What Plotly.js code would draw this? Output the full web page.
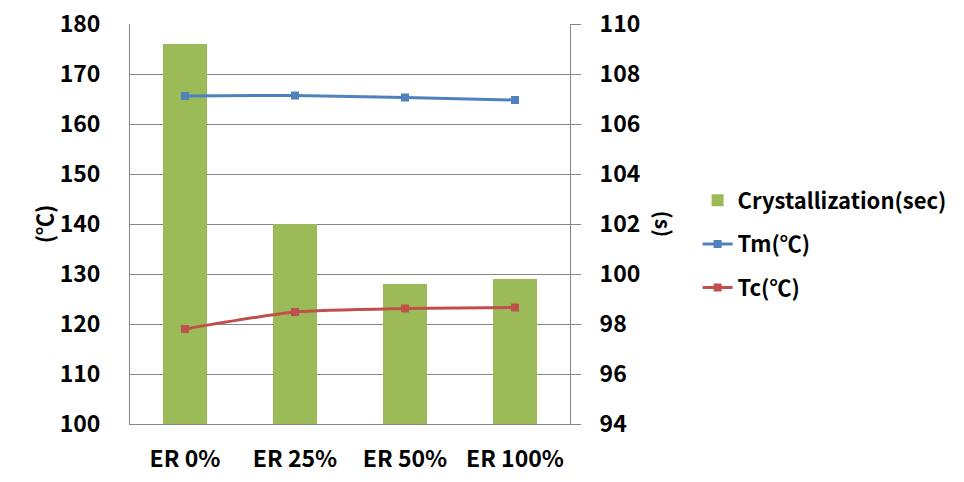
<!DOCTYPE html>
<html>
<head>
<meta charset="utf-8">
<script src="https://cdn.plot.ly/plotly-3.0.1.min.js"></script>
<style>html,body{margin:0;padding:0;background:#fff;}#chart{width:964px;height:482px;}</style>
</head>
<body>
<div id="chart"></div>
<script>
const categories = ["ER 0%", "ER 25%", "ER 50%", "ER 100%"];
const crystallization = [109.2, 102.0, 99.6, 99.8];
const tm = [165.6, 165.7, 165.3, 164.8];
const tc = [119.0, 122.4, 123.1, 123.3];
const leftTicks = [100, 110, 120, 130, 140, 150, 160, 170, 180];
const rightTicks = [94, 96, 98, 100, 102, 104, 106, 108, 110];

const FONT = "'Noto Sans CJK KR', 'Noto Sans', sans-serif";
const GRID = "#868686";
const TF = {family: FONT, size: 23, weight: "bold", color: "#000"};

const traces = [
  {
    type: "bar", name: "Crystallization(sec)", x: categories, y: crystallization,
    xaxis: "x", yaxis: "y", marker: {color: "#9BBB59"}, legendgroup: "a"
  },
  {
    type: "scatter", mode: "lines+markers", name: "Tm(℃)", x: categories, y: tm,
    xaxis: "x", yaxis: "y2", line: {color: "#4F81BD", width: 3, shape: "spline", smoothing: 0.6},
    marker: {symbol: "square", size: 8, color: "#4F81BD"}, legendgroup: "b"
  },
  {
    type: "scatter", mode: "lines+markers", name: "Tc(℃)", x: categories, y: tc,
    xaxis: "x", yaxis: "y2", line: {color: "#C0504D", width: 3, shape: "spline", smoothing: 0.6},
    marker: {symbol: "square", size: 8, color: "#C0504D"}, legendgroup: "c"
  }
];

const layout = {
  width: 964, height: 482,
  margin: {l: 129.5, r: 391, t: 23.5, b: 57.5},
  paper_bgcolor: "#fff", plot_bgcolor: "#fff",
  font: {family: FONT, color: "#000", size: 20},
  showlegend: true,
  bargap: 0.6,
  xaxis: {
    type: "category", categoryorder: "array", categoryarray: categories,
    range: [-0.5, 3.5],
    showline: true, linecolor: GRID, linewidth: 1, mirror: false,
    showgrid: false, ticks: "", ticklabelstandoff: 14,
    tickfont: TF
  },
  yaxis: {
    side: "right", range: [94, 110], tickvals: rightTicks,
    showgrid: true, gridcolor: GRID, gridwidth: 1,
    showline: true, linecolor: GRID, linewidth: 1,
    ticks: "outside", ticklen: 10, tickcolor: GRID, tickwidth: 1,
    ticklabelstandoff: 14, zeroline: false,
    tickfont: TF
  },
  yaxis2: {
    side: "left", overlaying: "y", range: [100, 180], tickvals: leftTicks,
    showgrid: false, zeroline: false,
    showline: true, linecolor: GRID, linewidth: 1,
    ticks: "", ticklabelstandoff: 24,
    tickfont: TF
  },
  legend: {
    x: 1.29, xanchor: "left", y: 0.45, yanchor: "middle",
    font: {family: FONT, size: 22, weight: "bold", color: "#000"},
    tracegroupgap: 12, traceorder: "grouped",
    bgcolor: "rgba(0,0,0,0)", itemwidth: 30
  },
  annotations: [
    {
      text: "(℃)", xref: "paper", yref: "paper", x: -0.197, y: 0.5,
      xanchor: "center", yanchor: "middle", showarrow: false, textangle: -90,
      font: {family: FONT, size: 22, weight: "bold", color: "#000"}
    },
    {
      text: "(s)", xref: "paper", yref: "paper", x: 1.214, y: 0.5,
      xanchor: "center", yanchor: "middle", showarrow: false, textangle: 90,
      font: {family: FONT, size: 21, weight: "bold", color: "#000"}
    }
  ]
};

Plotly.newPlot("chart", traces, layout, {displayModeBar: false, staticPlot: true});
</script>
</body>
</html>
